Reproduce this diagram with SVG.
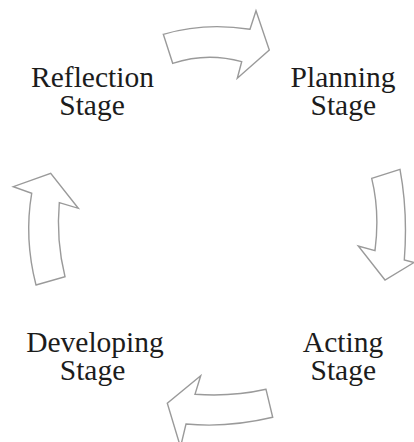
<svg xmlns="http://www.w3.org/2000/svg" width="414" height="442" viewBox="0 0 414 442">
  <style>
    .stage { font-family: "Liberation Serif", "Times New Roman", serif; font-size: 29.5px; fill: #1c1c1c; text-anchor: middle; }
    .arrow { fill: #ffffff; stroke: #9a9a9a; stroke-width: 1.4; stroke-linejoin: miter; }
  </style>
  <rect width="414" height="442" fill="#ffffff"/>

  <!-- curved block arrows linking the stages -->
  <g id="connectors">
    <path id="arrow-reflection-planning" class="arrow"
          d="M163.3,34.3 Q205,22 250,29.3 L256,10.7 L269.3,50 L237.3,78.3 L241.7,61.7 Q207,52 172.7,63.3 Z"/>
    <path id="arrow-planning-acting" class="arrow"
          d="M371.7,178.3 L400,169.3 Q408,212 404.3,260 L414,262.5 L385,280 L358.3,246 L375,250.7 Q380,212 371.7,178.3 Z"/>
    <path id="arrow-acting-developing" class="arrow"
          d="M266,389.3 L272.7,417.3 Q228,428 186,424 L180.5,447 L167.3,403.3 L200.7,375.7 L195,394.3 Q232,397 266,389.3 Z"/>
    <path id="arrow-developing-reflection" class="arrow"
          d="M36,285 L65,276.7 Q56,240 59.3,202.7 L78.3,208.3 L50.7,173.3 L13.3,186.7 L31.7,193.3 Q24,238 36,285 Z"/>
  </g>

  <g id="reflection-stage">
    <text class="stage" x="92.5" y="87.3">Reflection</text>
    <text class="stage" x="92" y="115">Stage</text>
  </g>
  <g id="planning-stage">
    <text class="stage" x="343" y="87.3">Planning</text>
    <text class="stage" x="343.3" y="115">Stage</text>
  </g>
  <g id="acting-stage">
    <text class="stage" x="343" y="351.7">Acting</text>
    <text class="stage" x="343.3" y="380">Stage</text>
  </g>
  <g id="developing-stage">
    <text class="stage" x="95" y="351.7">Developing</text>
    <text class="stage" x="92.5" y="380">Stage</text>
  </g>
</svg>
